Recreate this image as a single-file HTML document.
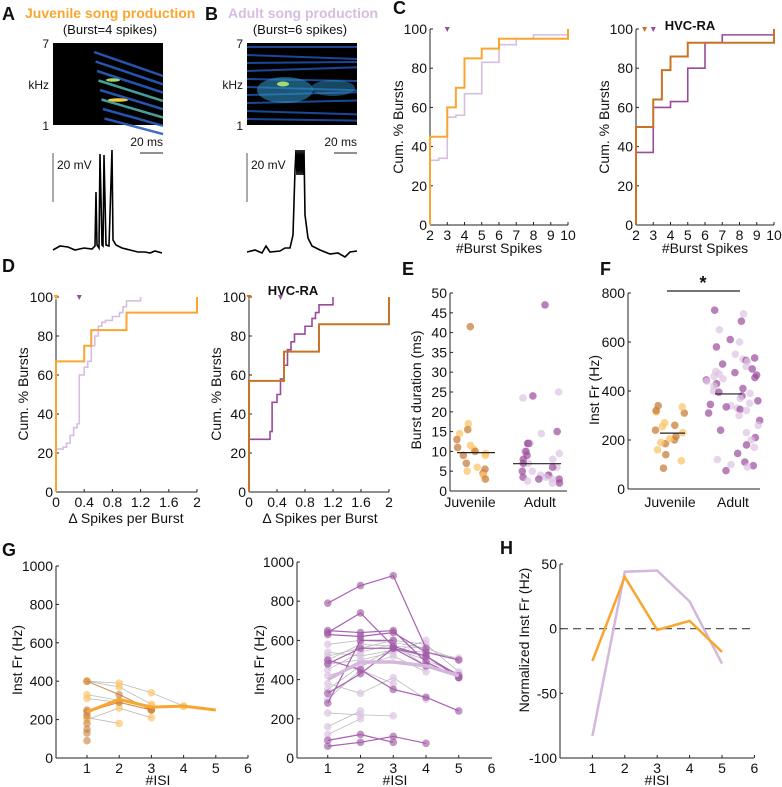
<!DOCTYPE html>
<html><head><meta charset="utf-8">
<style>
html,body{margin:0;padding:0;background:#fff;}
svg{display:block;font-family:"Liberation Sans",Arial,sans-serif;}
text{fill:#111;}
</style></head>
<body>
<svg id="fig" width="782" height="787" viewBox="0 0 782 787" xmlns="http://www.w3.org/2000/svg"></svg>
<script>
// ---------- DATA ----------
const cTicksX=[2,3,4,5,6,7,8,9,10];
const cTicksY=[0,20,40,60,80,100];
const cJuvX=[2,3,3.5,4,5,6,10];
const cJuvY=[45,60,70,85,90,95,100];
const cAduX=[2,2.5,3,3.5,4,5,6,7,8];
const cAduY=[33,34,55,56,67,83,92,95,97];
const cRaJuvX=[2,3,3.5,4,5,10];
const cRaJuvY=[50,64,79,86,93,100];
const cRaAduX=[2,3,4,5,6,7,10];
const cRaAduY=[37,60,63,80,93,97,100];
const dTicksX=[0,0.4,0.8,1.2,1.6,2];
const dJuvX=[0,0.4,0.5,1,2];
const dJuvY=[67,75,83,92,100];
const dAduX=[0,0.1,0.15,0.2,0.25,0.3,0.33,0.4,0.45,0.5,0.55,0.6,0.65,0.7,0.8,0.9,0.95,1.0,1.2];
const dAduY=[22,23,25,29,33,35,60,64,67,75,80,85,87,88,90,92,95,98,100];
const dRaJuvX=[0,0.5,1,2];
const dRaJuvY=[57,72,86,100];
const dRaAduX=[0,0.3,0.33,0.4,0.45,0.5,0.55,0.6,0.65,0.8,0.9,0.95,1.0,1.2];
const dRaAduY=[27,31,46,50,58,65,73,77,81,85,89,92,96,100];
const eTicksY=[0,5,10,15,20,25,30,35,40,45,50];
const eJuv=[41.5,17,15.5,14.5,13,11.5,11,10.5,10,9.5,9,9,7,6,5.5,5,4.5,4,3];
const eAdu=[47,25,24,23.5,15,14.5,12,12,12,10,10,9.5,9,8,8,7,7,6,6,5,5,4,4,4,3.5,3.5,3,3,3,2.5,2,2];
const eMeans=[9.7,6.9];
const fTicksY=[0,200,400,600,800];
const fJuv=[85,115,140,160,185,190,200,205,215,230,240,255,260,270,310,315,320,335,340];
const fAdu=[730,715,685,650,610,600,580,550,535,530,525,520,510,500,490,480,475,470,465,460,455,450,445,440,430,420,410,400,395,390,380,370,360,350,345,340,335,330,325,320,310,300,280,260,240,230,210,200,180,170,145,120,110,100,95,90,75];
const fMeans=[228,388];
const gTicksY=[0,200,400,600,800,1000];
const gTicksX=[1,2,3,4,5,6];
const gJuvGray=[[400,390,340,270],[400,370,280],[210,180],[200,260,210],[330,300,270,270],[310,290,250]];
const gJuvDark=[[400,330,250],[240,290,250],[150],[130],[90],[250],[220],[180]];
const gJuvMean=[240,305,265,270,250];
const gAduGray=[[580,600,590,560,500],[520,560,600,580,440],[480,500,540,600],[450,540,580,470],[420,470,560,500,430],[380,330,410,300],[350,470,520,440],[300,450,380],[230,220,215],[160,240],[120,200],[500,580,570,560],[540,520,550,540,510]];
const gAduPurple=[[790,880,930,560],[640,740,570,520,420],[650,640,650,490,410],[630,620,640,540,500],[500,450,350,310,240],[90,120,80],[60,80,110,75],[480,560,560,470],[330,430,560,520,410],[280,600,600]];
const gAduMean=[400,490,490,470,420];
const hTicksY=[-100,-50,0,50];
const hJuv=[-25,40,-1,6,-18];
const hAdu=[-83,44,45,21,-27];

// ---------- HELPERS ----------
const NS='http://www.w3.org/2000/svg';
const svg=document.getElementById('fig');
function el(tag,attrs,name,parent){
  const e=document.createElementNS(NS,tag);
  for(const k in attrs) e.setAttribute(k,attrs[k]);
  
  
  (parent||svg).appendChild(e);
  return e;
}
function txt(x,y,s,size,anchor,name,opts){
  opts=opts||{};
  const a={x:x,y:y,'font-size':size,'text-anchor':anchor||'start'};
  if(opts.bold) a['font-weight']='bold';
  if(opts.fill) a.style='fill:'+opts.fill;
  if(opts.rot) a.transform='rotate(-90 '+x+' '+y+')';
  const t=el('text',a,name);
  t.textContent=s;
  return t;
}
function lin(d0,d1,r0,r1){return v=>r0+(v-d0)*(r1-r0)/(d1-d0);}
function line(x1,y1,x2,y2,stroke,w,name,extra){
  const a={x1:x1,y1:y1,x2:x2,y2:y2,stroke:stroke,'stroke-width':w};
  if(extra) for(const k in extra) a[k]=extra[k];
  return el('line',a,name);
}
const FS=14;
function axes(x0,x1,y0,y1,sx,sy,xt,yt,pfx){
  line(x0,y0,x0,y1,'#222',1,pfx+'-y-axis');
  line(x0,y0,x1,y0,'#222',1,pfx+'-x-axis');
  if(yt) yt.forEach(v=>{
    const y=sy(v);
    line(x0,y,x0+3,y,'#222',1,pfx+'-y-tick');
    txt(x0-3,y+5,String(v),FS,'end',pfx+'-y-tick-label');
  });
  if(xt) xt.forEach(v=>{
    const x=sx(v);
    line(x,y0,x,y0-3,'#222',1,pfx+'-x-tick');
    txt(x,y0+15,String(v),FS,'middle',pfx+'-x-tick-label');
  });
}
function step(xs,ys,sx,sy,xend,color,w,name){
  let d='M'+sx(xs[0])+','+sy(0)+' V'+sy(ys[0]);
  for(let i=1;i<xs.length;i++){d+=' H'+sx(xs[i])+' V'+sy(ys[i]);}
  d+=' H'+sx(xend);
  el('path',{d:d,fill:'none',stroke:color,'stroke-width':w},name);
}
function tri(x,y,color,name){
  el('path',{d:'M'+(x-2.5)+','+(y-3)+' L'+(x+2.5)+','+(y-3)+' L'+x+','+(y+2)+'Z',fill:color},name);
}
function jit(i){const s=Math.sin(i*12.9898+3.1)*43758.5453;return (s-Math.floor(s))-0.5;}
const OR='#f8a630', LP='#d7bde0', DO='#c87426', DP='#9a4a9b';

// ---------- PANEL A/B ----------
txt(2,20,'A',18,'start','panel-label-a',{bold:1});
txt(25,18,'Juvenile song production',14,'start','juvenile-title',{bold:1,fill:OR});
txt(110,34,'(Burst=4 spikes)',13,'middle','juvenile-subtitle');
txt(205,20,'B',18,'start','panel-label-b',{bold:1});
txt(228,18,'Adult song production',14,'start','adult-title',{bold:1,fill:LP});
txt(300,34,'(Burst=6 spikes)',13,'middle','adult-subtitle');
[[53,'a'],[247,'b']].forEach(([x0,p])=>{
  el('rect',{x:x0,y:43,width:110,height:82,fill:'#000'},'spectrogram-'+p);
  txt(x0-4,48,'7',12,'end','freq-max-'+p);
  txt(x0-4,89,'kHz',12,'end','freq-unit-'+p);
  txt(x0-4,130,'1',12,'end','freq-min-'+p);
  line(x0+87,153,x0+110,153,'#222',1,'time-scalebar-'+p);
  txt(x0+110,146,'20 ms',12,'end','time-scalebar-label-'+p);
  line(x0,153,x0,202,'#555',1,'voltage-scalebar-'+p);
  txt(x0+4,169,'20 mV',12,'start','voltage-scalebar-label-'+p);
});
for(let i=0;i<8;i++){
  const y=52+i*9.5;
  el('line',{x1:94+i*1.5,y1:y,x2:163,y2:y+24-i*1.2,stroke:(i==3||i==5)?'#4fb0a8':'#2a5fc0','stroke-width':2.5,opacity:0.9},'harmonic-a');
}
el('ellipse',{cx:118,cy:100,rx:10,ry:1.8,fill:'#f0d040'},'spectral-peak-a');
el('ellipse',{cx:113,cy:80,rx:7,ry:1.8,fill:'#a0d870'},'spectral-peak-a');
for(let i=0;i<10;i++){
  const y=47+i*8;
  el('line',{x1:247,y1:y,x2:357,y2:y+4*Math.sin(i*1.7),stroke:'#1f4fa8','stroke-width':2,opacity:0.9},'harmonic-b');
}
el('ellipse',{cx:285,cy:90,rx:28,ry:13,fill:'#2f8fbf',opacity:0.6},'spectral-blob-b');
el('ellipse',{cx:333,cy:88,rx:22,ry:8,fill:'#2f8fbf',opacity:0.5},'spectral-blob-b');
el('ellipse',{cx:283,cy:84,rx:6,ry:2.5,fill:'#a8d870'},'spectral-peak-b');
el('path',{d:'M53,250 L60,246 L68,247 L75,250 L84,248 L92,249 L95,246 L96,192 L97,245 L99,248 L100,154 L102,245 L103,246 L104,155 L106,245 L109,246 L112,150 L113,240 L116,245 L122,248 L130,250 L138,252 L145,252 L150,253 L155,251 L162,253',fill:'none',stroke:'#000','stroke-width':1.6},'membrane-trace-juvenile');
el('path',{d:'M247,252 L255,250 L262,253 L266,246 L270,252 L280,251 L285,248 L290,248 L293,235 L295,170 L296,150 L297,175 L298,150 L299,175 L300,150 L301,175 L302,150 L303,175 L304,150 L305,215 L308,238 L312,246 L320,250 L330,254 L338,253 L345,257 L350,252 L357,251',fill:'none',stroke:'#000','stroke-width':1.6},'membrane-trace-adult');

// ---------- PANEL C ----------
txt(393,14,'C',18,'start','panel-label-c',{bold:1});
const syC=lin(0,100,225,29);
const sxC1=lin(2,10,430,568), sxC2=lin(2,10,636,774);
axes(430,568,225,29,sxC1,syC,cTicksX,cTicksY,'c-left');
axes(636,774,225,29,sxC2,syC,cTicksX,cTicksY,'c-right');
step(cAduX,cAduY,sxC1,syC,10,LP,1.6,'c-left-adult-cdf');
step(cJuvX,cJuvY,sxC1,syC,10,OR,2,'c-left-juvenile-cdf');
step(cRaAduX,cRaAduY,sxC2,syC,10,DP,1.6,'c-right-adult-cdf');
step(cRaJuvX,cRaJuvY,sxC2,syC,10,DO,2,'c-right-juvenile-cdf');
tri(sxC1(3),30,DP,'c-left-median-marker');
tri(sxC2(2.5),30,DO,'c-right-juvenile-median');
tri(sxC2(3),30,DP,'c-right-adult-median');
txt(690,30,'HVC-RA',13,'middle','c-right-title',{bold:1});
txt(403,127,'Cum. % Bursts',14,'middle','c-left-y-title',{rot:1});
txt(609,127,'Cum. % Bursts',14,'middle','c-right-y-title',{rot:1});
txt(499,253,'#Burst Spikes',14,'middle','c-left-x-title');
txt(705,253,'#Burst Spikes',14,'middle','c-right-x-title');

// ---------- PANEL D ----------
txt(2,272,'D',18,'start','panel-label-d',{bold:1});
const syD=lin(0,100,492,297);
const sxD1=lin(0,2,56,197), sxD2=lin(0,2,249,389);
axes(56,197,492,297,sxD1,syD,dTicksX,cTicksY,'d-left');
axes(249,389,492,297,sxD2,syD,dTicksX,cTicksY,'d-right');
step(dAduX,dAduY,sxD1,syD,1.2,LP,1.6,'d-left-adult-cdf');
step(dJuvX,dJuvY,sxD1,syD,2,OR,2,'d-left-juvenile-cdf');
step(dRaAduX,dRaAduY,sxD2,syD,1.2,DP,1.6,'d-right-adult-cdf');
step(dRaJuvX,dRaJuvY,sxD2,syD,2,DO,2,'d-right-juvenile-cdf');
tri(sxD1(0),298,OR,'d-left-juvenile-median');
tri(sxD1(0.33),298,DP,'d-left-adult-median');
tri(sxD2(0),298,DO,'d-right-juvenile-median');
tri(sxD2(0.45),298,DP,'d-right-adult-median');
txt(293,295,'HVC-RA',13,'middle','d-right-title',{bold:1});
txt(28,394,'Cum. % Bursts',14,'middle','d-left-y-title',{rot:1});
txt(221,394,'Cum. % Bursts',14,'middle','d-right-y-title',{rot:1});
txt(126,523,'Δ Spikes per Burst',14,'middle','d-left-x-title');
txt(320,523,'Δ Spikes per Burst',14,'middle','d-right-x-title');

// ---------- PANEL E/F ----------
txt(402,275,'E',18,'start','panel-label-e',{bold:1});
const syE=lin(0,50,491,293);
axes(450,567,491,293,null,syE,null,eTicksY,'e');
eJuv.forEach((v,i)=>{el('circle',{cx:470+jit(i)*32,cy:syE(v),r:3.8,fill:i%2?'#fcc66a':'#c87f3a',opacity:0.75},'e-juvenile-dot');});
eAdu.forEach((v,i)=>{el('circle',{cx:540+jit(i+50)*40,cy:syE(v),r:3.8,fill:i%2?'#dcc3e3':'#9b4b9b',opacity:0.7},'e-adult-dot');});
line(457,syE(eMeans[0]),495,syE(eMeans[0]),'#222',1.2,'e-juvenile-mean');
line(513,syE(eMeans[1]),561,syE(eMeans[1]),'#222',1.2,'e-adult-mean');
txt(470,507,'Juvenile',14,'middle','e-x-label-juvenile');
txt(540,507,'Adult',14,'middle','e-x-label-adult');
txt(421,390,'Burst duration (ms)',14,'middle','e-y-title',{rot:1});

txt(600,275,'F',18,'start','panel-label-f',{bold:1});
const syF=lin(0,800,489,293);
axes(628,760,489,293,null,syF,null,fTicksY,'f');
fJuv.forEach((v,i)=>{el('circle',{cx:670+jit(i+100)*38,cy:syF(v),r:3.8,fill:i%2?'#fcc66a':'#c87f3a',opacity:0.75},'f-juvenile-dot');});
fAdu.forEach((v,i)=>{el('circle',{cx:733+jit(i+200)*54,cy:syF(v),r:3.8,fill:i%2?'#dcc3e3':'#9b4b9b',opacity:0.7},'f-adult-dot');});
line(660,syF(fMeans[0]),685,syF(fMeans[0]),'#222',1.2,'f-juvenile-mean');
line(715,syF(fMeans[1]),742,syF(fMeans[1]),'#222',1.2,'f-adult-mean');
line(667,291,740,291,'#222',1.2,'significance-bar');
txt(703,289,'*',18,'middle','significance-star',{bold:1});
txt(670,507,'Juvenile',14,'middle','f-x-label-juvenile');
txt(733,507,'Adult',14,'middle','f-x-label-adult');
txt(599,390,'Inst Fr (Hz)',14,'middle','f-y-title',{rot:1});

// ---------- PANEL G ----------
txt(2,556,'G',18,'start','panel-label-g',{bold:1});
const sxG1=lin(0,6,54.8,248), syG1=lin(0,1000,758,566);
const sxG2=lin(0,6,295,491.5), syG2=lin(0,1000,758,562);
axes(56,248,758,566,sxG1,syG1,gTicksX,gTicksY,'g-left');
axes(297,492,758,562,sxG2,syG2,gTicksX.slice(0,5),gTicksY,'g-right');
txt(sxG2(6),773,'6',FS,'middle','g-right-x-tick-label');
function series(arr,sx,sy,color,w,dot,op,name){
  const pts=arr.map((v,i)=>sx(i+1)+','+sy(v)).join(' ');
  if(arr.length>1) el('polyline',{points:pts,fill:'none',stroke:color,'stroke-width':w},name+'-line');
  if(dot) arr.forEach((v,i)=>{el('circle',{cx:sx(i+1),cy:sy(v),r:3.8,fill:dot,opacity:op},name+'-dot');});
}
gJuvGray.forEach(a=>series(a,sxG1,syG1,'#bbb',0.8,'#fcc66a',0.7,'g-juvenile-light'));
gJuvDark.forEach(a=>series(a,sxG1,syG1,'#d08a4a',1,'#c87f3a',0.6,'g-juvenile-dark'));
series(gJuvMean,sxG1,syG1,OR,3,null,1,'g-juvenile-mean');
gAduGray.forEach(a=>series(a,sxG2,syG2,'#bbb',0.8,'#dcc3e3',0.7,'g-adult-light'));
gAduPurple.forEach(a=>series(a,sxG2,syG2,'#a860b5',1.2,'#a05aa5',0.65,'g-adult-dark'));
series(gAduMean,sxG2,syG2,'#d4b8dc',3.5,null,1,'g-adult-mean');
txt(22,660,'Inst Fr (Hz)',14,'middle','g-left-y-title',{rot:1});
txt(264,660,'Inst Fr (Hz)',14,'middle','g-right-y-title',{rot:1});
txt(158,785,'#ISI',14,'middle','g-left-x-title');
txt(395,785,'#ISI',14,'middle','g-right-x-title');

// ---------- PANEL H ----------
txt(500,554,'H',18,'start','panel-label-h',{bold:1});
const sxH=lin(0,6,560,754.4), syH=lin(-100,50,758,564);
axes(560,754,758,564,sxH,syH,gTicksX,hTicksY,'h');
line(560,syH(0),754,syH(0),'#444',1.2,'h-zero-line',{'stroke-dasharray':'8,5'});
series(hAdu,sxH,syH,'#d4b8dc',2.5,null,1,'h-adult');
series(hJuv,sxH,syH,OR,2.5,null,1,'h-juvenile');
txt(529,640,'Normalized Inst Fr (Hz)',14,'middle','h-y-title',{rot:1});
txt(657,785,'#ISI',14,'middle','h-x-title');
</script>
</body></html>
